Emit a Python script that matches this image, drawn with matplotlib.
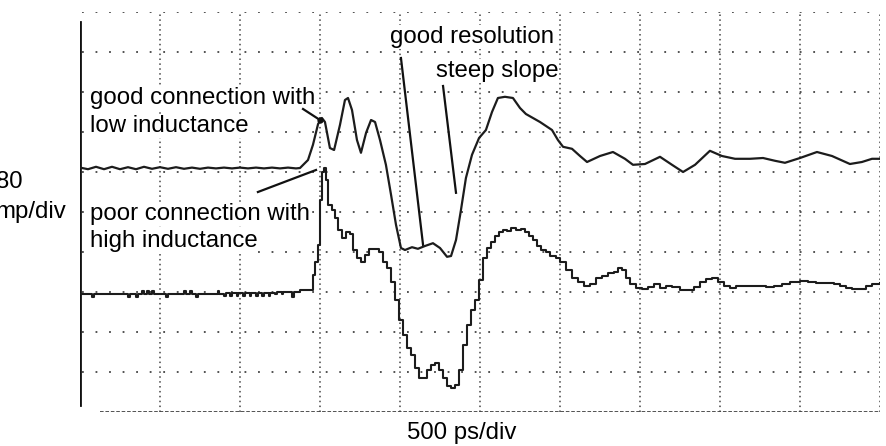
import matplotlib.pyplot as plt
import numpy as np

plt.rcParams['font.family'] = ['Liberation Sans', 'DejaVu Sans']

# time axis in ps (500 ps/div, 10 div), amplitude in divisions (0..10)
# good connection, low inductance (upper trace)
t_good = [0, 50, 100, 150, 200, 250, 300, 350, 400, 450, 500, 550, 600, 650,
          700, 750, 800, 850, 900, 950, 1000, 1050, 1100, 1150, 1200, 1250, 1300, 1350,
          1375, 1425, 1456, 1488, 1512, 1531, 1562, 1588, 1625, 1656, 1675, 1700,
          1731, 1756, 1788, 1819, 1844, 1875, 1912, 1944, 1975, 2006, 2031, 2075,
          2112, 2156, 2206, 2250, 2294, 2319, 2350, 2381, 2412, 2450, 2494, 2537,
          2575, 2612, 2656, 2706, 2750, 2787, 2875, 2950, 2987, 3019, 3075, 3125,
          3169, 3250, 3331, 3406, 3456, 3531, 3625, 3700, 3769, 3844, 3937, 4012,
          4094, 4187, 4269, 4344, 4406, 4500, 4606, 4700, 4812, 4887, 4950, 5000]
v_good = [6.11, 6.07, 6.13, 6.07, 6.13, 6.07, 6.12, 6.07, 6.13, 6.08, 6.12, 6.08, 6.12, 6.08,
          6.11, 6.08, 6.11, 6.09, 6.11, 6.09, 6.11, 6.09, 6.11, 6.09, 6.11, 6.09, 6.11, 6.09,
          6.10, 6.30, 6.68, 7.20, 7.35, 7.25, 6.60, 6.55, 7.18, 7.80, 7.85, 7.55,
          6.80, 6.48, 6.98, 7.30, 7.25, 6.80, 6.18, 5.43, 4.68, 4.10, 4.05, 4.12,
          4.08, 4.15, 4.22, 4.10, 3.88, 3.90, 4.30, 5.05, 5.85, 6.43, 6.85, 7.05,
          7.50, 7.85, 7.88, 7.85, 7.60, 7.45, 7.25, 7.05, 6.80, 6.63, 6.58, 6.40,
          6.25, 6.40, 6.50, 6.33, 6.18, 6.20, 6.38, 6.18, 6.00, 6.18, 6.53, 6.40,
          6.33, 6.33, 6.35, 6.28, 6.23, 6.35, 6.50, 6.40, 6.20, 6.25, 6.33, 6.33]

# poor connection, high inductance (lower trace, sampled / stepped)
t_poor = [0, 75, 88, 300, 312, 350, 362, 390, 400, 420, 430, 450, 462, 540, 552,
          650, 660, 690, 700, 725, 737, 860, 870, 900, 910, 940, 950, 980, 990,
          1020, 1030, 1060, 1070, 1100, 1110, 1140, 1150, 1180, 1190, 1220, 1230,
          1260, 1270, 1325, 1337,
          1375, 1425, 1456, 1469, 1488, 1500, 1512, 1525, 1538, 1550, 1575, 1594,
          1612, 1638, 1662, 1688, 1706, 1731, 1756, 1781, 1806, 1838, 1869, 1894,
          1919, 1944, 1969, 1994, 2019, 2044, 2069, 2094, 2119, 2144, 2169, 2194,
          2219, 2244, 2269, 2294, 2319, 2344, 2369, 2394, 2419, 2444, 2469, 2494,
          2519, 2544, 2569, 2594, 2619, 2644, 2669, 2694, 2725, 2756, 2781, 2806,
          2831, 2856, 2881, 2912, 2938, 2975, 3000, 3038, 3075, 3112, 3150, 3188,
          3225, 3262, 3300, 3338, 3362, 3388, 3412, 3438, 3475, 3512, 3550, 3588,
          3625, 3662, 3700, 3750, 3800, 3838, 3875, 3912, 3950, 3988, 4025, 4062,
          4100, 4138, 4188, 4238, 4288, 4338, 4388, 4438, 4500, 4550, 4600, 4662,
          4712, 4750, 4788, 4825, 4875, 4912, 4950, 5000]
v_poor = [2.95, 2.87, 2.95, 2.87, 2.95, 2.87, 2.95, 3.03, 2.95, 3.03, 2.95, 3.03, 2.95, 2.87, 2.95,
          3.03, 2.95, 3.03, 2.95, 2.87, 2.95, 3.03, 2.95, 2.90, 2.97, 2.90, 2.97, 2.90, 2.97,
          2.90, 2.97, 2.90, 2.97, 2.90, 2.97, 2.90, 2.97, 2.90, 2.97, 2.95, 2.99,
          2.95, 2.99, 2.88, 2.99,
          3.05, 3.05, 3.43, 3.75, 4.18, 5.30, 6.00, 6.10, 5.80, 5.18, 5.05, 4.85,
          4.55, 4.35, 4.50, 4.45, 4.05, 3.85, 3.75, 3.93, 4.08, 4.08, 4.00, 3.75,
          3.60, 3.25, 2.80, 2.30, 1.93, 1.60, 1.43, 1.10, 0.85, 0.85, 1.05, 1.18,
          1.23, 1.05, 0.85, 0.65, 0.60, 0.68, 1.05, 1.68, 2.18, 2.55, 2.80, 3.30,
          3.85, 4.10, 4.25, 4.40, 4.50, 4.55, 4.53, 4.60, 4.55, 4.58, 4.50, 4.40,
          4.30, 4.15, 4.05, 4.00, 3.90, 3.85, 3.75, 3.55, 3.35, 3.25, 3.15, 3.20,
          3.35, 3.40, 3.48, 3.50, 3.60, 3.55, 3.35, 3.20, 3.10, 3.08, 3.13, 3.20,
          3.10, 3.15, 3.13, 3.05, 3.05, 3.13, 3.25, 3.33, 3.35, 3.25, 3.15, 3.10,
          3.15, 3.15, 3.15, 3.15, 3.13, 3.15, 3.20, 3.25, 3.28, 3.25, 3.23, 3.23,
          3.20, 3.15, 3.10, 3.08, 3.08, 3.15, 3.20, 3.23]

fig = plt.figure(figsize=(8.86, 4.46), dpi=100)
ax = fig.add_axes([80 / 886, 34 / 446, 800 / 886, 400 / 446])
ax.set_xlim(0, 5000)
ax.set_ylim(0, 10)
ax.axis('off')

# scope graticule
gc = '#444444'
for k in range(1, 11):
    ax.axvline(k * 500, color=gc, lw=1.1, ls=(0, (1, 2.2)), zorder=1)
for k in range(1, 11):
    ax.axhline(k, xmin=0.003, color=gc, lw=1.3, ls=(0, (1, 6.5)), zorder=1)
ax.plot([125, 5000], [0, 0], color=gc, lw=1.3, ls=(0, (2, 1)), zorder=1)
ax.plot([0, 0], [0.18, 9.75], color='#111111', lw=2, zorder=2)

# traces
ax.plot(t_good, v_good, color='#1c1c1c', lw=1.6, zorder=3)
ax.plot(t_poor, v_poor, color='#1c1c1c', lw=1.5, drawstyle='steps-post', zorder=3)

# callouts
box = dict(fc='white', ec='none', pad=0.5)
fs = 17.3
ax.text(62, 7.85, 'good connection with', fontsize=fs, va='center', bbox=box, zorder=4)
ax.text(62, 7.15, 'low inductance', fontsize=fs, va='center', bbox=box, zorder=4)
ax.text(62, 4.95, 'poor connection with', fontsize=fs, va='center', bbox=box, zorder=4)
ax.text(62, 4.28, 'high inductance', fontsize=fs, va='center', bbox=box, zorder=4)
ax.text(2450, 9.38, 'good resolution', fontsize=fs, ha='center', va='center', bbox=box, zorder=4)
ax.text(2606, 8.53, 'steep slope', fontsize=fs, ha='center', va='center', bbox=box, zorder=4)

lc = '#111111'
ax.plot([1394, 1500], [7.575, 7.3], color=lc, lw=1.6, zorder=5)
ax.plot([1500], [7.3], 'o', color=lc, ms=3.5, zorder=5)
ax.plot([1112, 1475], [5.5, 6.05], color=lc, lw=1.6, zorder=5)
ax.plot([2006, 2144], [8.85, 4.18], color=lc, lw=1.6, zorder=5)
ax.plot([2269, 2350], [8.15, 5.48], color=lc, lw=1.6, zorder=5)

# scale labels (clipped at the left edge as in the original scan)
fig.text(23 / 886, 1 - 182 / 446, '80', fontsize=fs, ha='right', va='center')
fig.text(66 / 886, 1 - 212 / 446, 'mp/div', fontsize=fs, ha='right', va='center')
fig.text(462 / 886, 1 - 433 / 446, '500 ps/div', fontsize=fs, ha='center', va='center')

fig.savefig('out.png', dpi=100, facecolor='white')
